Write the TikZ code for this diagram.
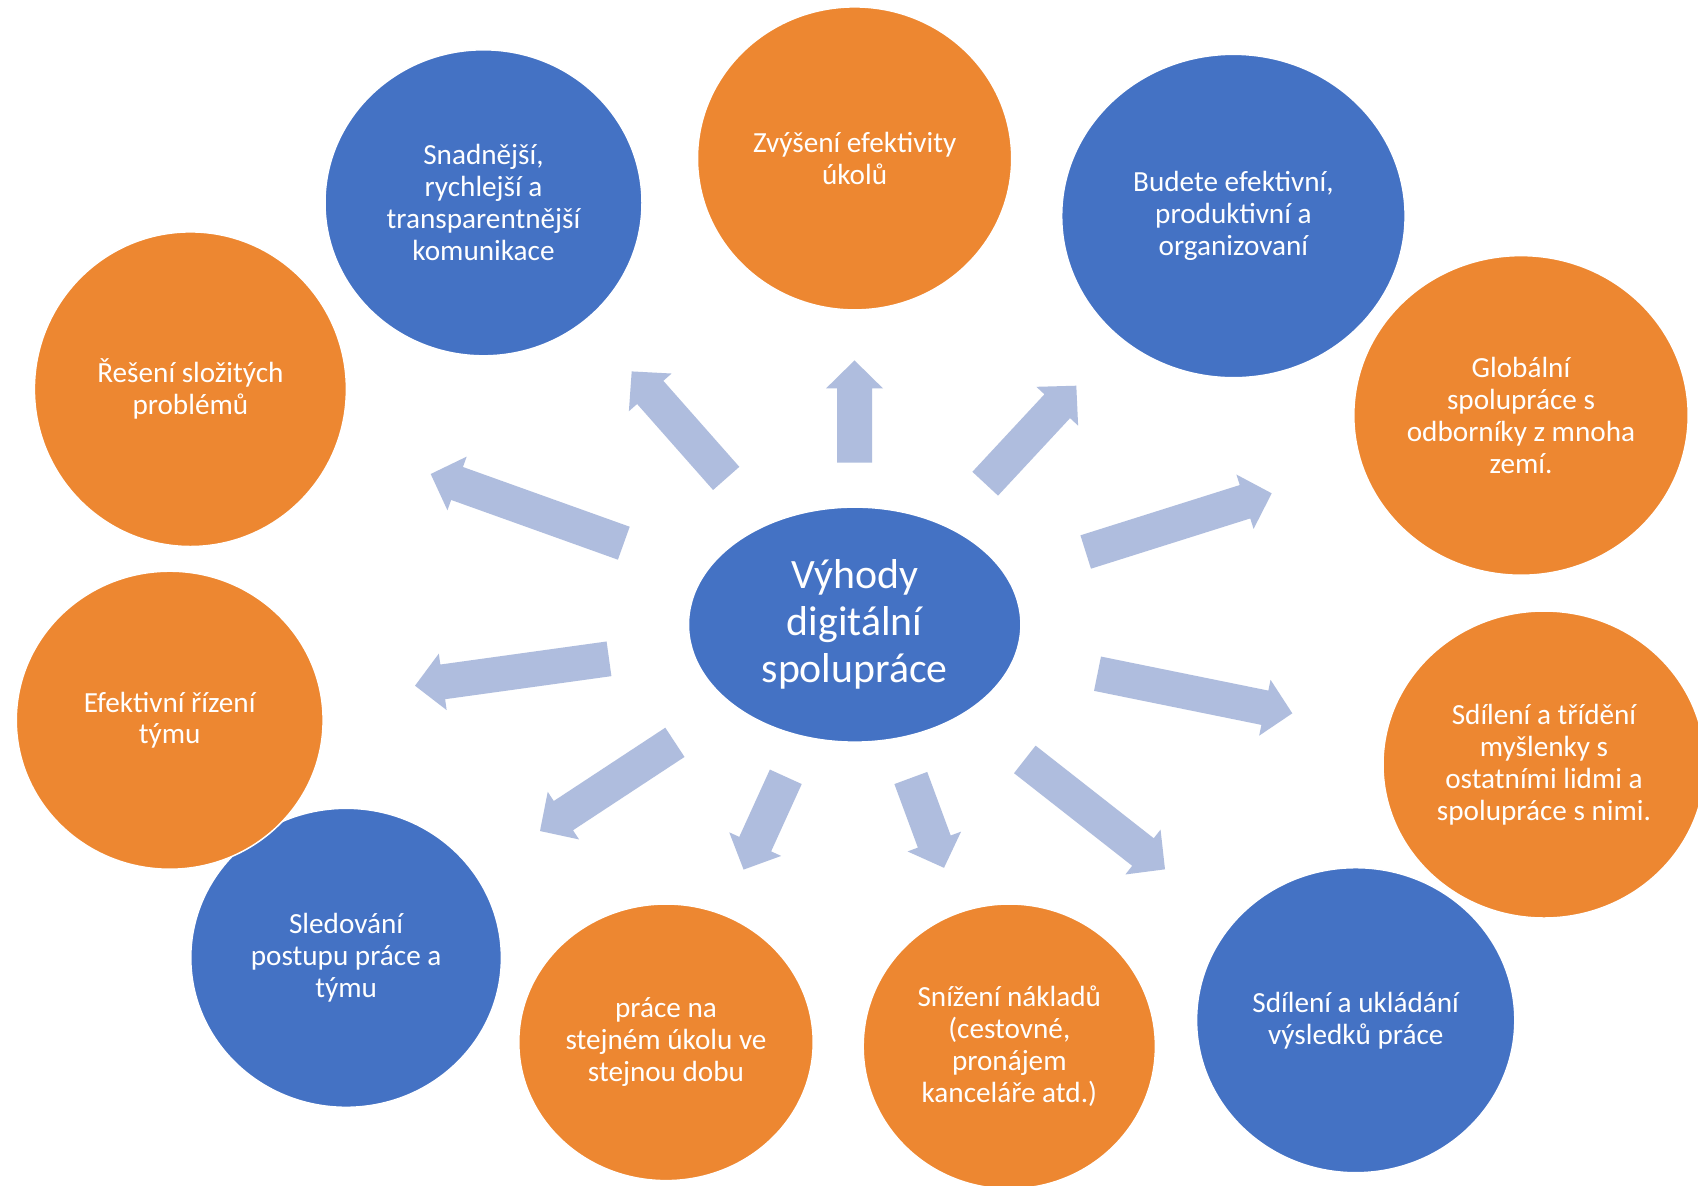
\documentclass[tikz,border=0pt]{standalone}
\usepackage{fontspec}
\setmainfont{Carlito}
\usetikzlibrary{shapes.geometric,calc}

\definecolor{bubblue}{HTML}{4472C4}
\definecolor{buborange}{HTML}{ED8731}
\definecolor{arrowfill}{HTML}{AFBDDE}

\tikzset{
  bubble/.style={ellipse, inner sep=0pt, outer sep=0pt, draw=white,
    line width=0.75pt, text=white, align=center,
    font=\fontsize{14.6pt}{16pt}\selectfont},
  bluebub/.style={bubble, fill=bubblue},
  orangebub/.style={bubble, fill=buborange},
  bubsize/.style 2 args={minimum width=#1pt, minimum height=#2pt},
}

% block arrow from tail point #1 to tip point #2
\newcommand\shafthalf{8.75pt}
\newcommand\headhalf{14.25pt}
\newcommand\headlen{14pt}
\newcommand\blockarrow[2]{%
  \fill[arrowfill]
    ($(#1)!\shafthalf!90:(#2)$) --
    ($(#2)!\headlen!(#1)!\shafthalf!90:(#2)$) --
    ($(#2)!\headlen!(#1)!\headhalf!90:(#2)$) --
    (#2) --
    ($(#2)!\headlen!(#1)!\headhalf!-90:(#2)$) --
    ($(#2)!\headlen!(#1)!\shafthalf!-90:(#2)$) --
    ($(#1)!\shafthalf!-90:(#2)$) -- cycle;}

\begin{document}
\begin{tikzpicture}[x=0.5pt, y=-0.5pt]
  \useasboundingbox (0,0) rectangle (1698,1185);
  \clip (0,0) rectangle (1698,1185);
  \fill[white] (0,0) rectangle (1698,1185);

  % centre
  \node[bluebub, bubsize={166.2}{117.5},
        font=\fontsize{20.9pt}{23.4pt}\selectfont] (cen) at (854.7,624.6)
        {Výhody\\digitální\\spolupráce};

  % surrounding bubbles
  \node[orangebub, bubsize={157.1}{151.5}] (zvy) at (854.6,158.4)
        {Zvýšení efektivity\\úkolů};
  \node[bluebub, bubsize={158.5}{153}] (sna) at (483.5,202.8)
        {Snadnější,\\rychlejší a\\transparentnější\\komunikace};
  \node[bluebub, bubsize={171.7}{161.7}] (bud) at (1233.4,216)
        {Budete efektivní,\\produktivní a\\organizovaní};
  \node[orangebub, bubsize={156}{157.3}] (res) at (190.4,389.2)
        {Řešení složitých\\problémů};
  \node[orangebub, bubsize={167.2}{159.8}] (glo) at (1521,415.4)
        {Globální\\spolupráce s\\odborníky z mnoha\\zemí.};
  \node[bluebub, bubsize={155.3}{149.5}] (sle) at (346.1,957.8)
        {Sledování\\postupu práce a\\týmu};
  \node[orangebub, bubsize={153.4}{149}] (efe) at (169.7,720.2)
        {Efektivní řízení\\týmu};
  \node[orangebub, bubsize={161}{153.5}] (sdt) at (1544,764.5)
        {Sdílení a třídění\\myšlenky s\\ostatními lidmi a\\spolupráce s nimi.};
  \node[orangebub, bubsize={147.2}{138.3}] (pra) at (666,1042.3)
        {práce na\\stejném úkolu ve\\stejnou dobu};
  \node[orangebub, bubsize={146.1}{142.4}] (sni) at (1009.3,1046.4)
        {Snížení nákladů\\(cestovné,\\pronájem\\kanceláře atd.)};
  \node[bluebub, bubsize={159.1}{152.5}] (sdu) at (1355.7,1020.2)
        {Sdílení a ukládání\\výsledků práce};

  % arrow ends
  \coordinate (a1t) at (854.5,462.5);  \coordinate (a1h) at (854.5,360.4);
  \coordinate (a2t) at (726.2,478.4);  \coordinate (a2h) at (631.7,371.4);
  \coordinate (a3t) at (985.2,483.7);  \coordinate (a3h) at (1076.3,385.7);
  \coordinate (a4t) at (623.8,543.2);  \coordinate (a4h) at (430.7,474);
  \coordinate (a5t) at (1085.7,552);   \coordinate (a5h) at (1271.7,493.3);
  \coordinate (a6t) at (609,658.8);    \coordinate (a6h) at (415,685.7);
  \coordinate (a7t) at (1097.5,673.7); \coordinate (a7h) at (1292.3,713.3);
  \coordinate (a8t) at (674.9,742.3);  \coordinate (a8h) at (540,831);
  \coordinate (a9t) at (785.8,776.8);  \coordinate (a9h) at (743.6,869.6);
  \coordinate (a10t) at (910.8,778);   \coordinate (a10h) at (944,867.8);
  \coordinate (a11t) at (1024.8,759.4);\coordinate (a11h) at (1165,869.3);

  \blockarrow{a1t}{a1h}
  \blockarrow{a2t}{a2h}
  \blockarrow{a3t}{a3h}
  \blockarrow{a4t}{a4h}
  \blockarrow{a5t}{a5h}
  \blockarrow{a6t}{a6h}
  \blockarrow{a7t}{a7h}
  \blockarrow{a8t}{a8h}
  \blockarrow{a9t}{a9h}
  \blockarrow{a10t}{a10h}
  \blockarrow{a11t}{a11h}
\end{tikzpicture}
\end{document}
